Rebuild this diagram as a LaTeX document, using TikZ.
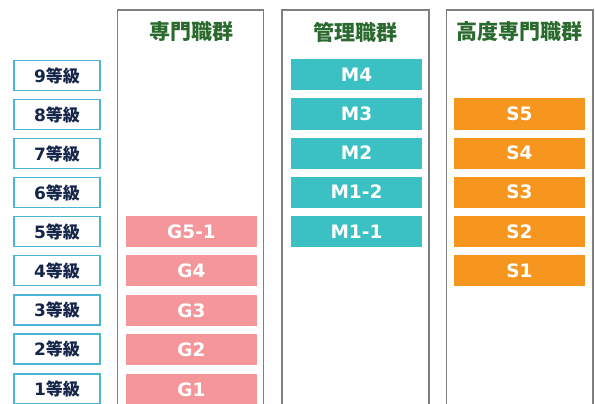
\documentclass[tikz,border=0pt]{standalone}
\usepackage{fontspec}
\setmainfont{DejaVu Sans}
\newfontfamily\cjk{Noto Sans CJK JP}[BoldFont={Noto Sans CJK JP Black}]
\newfontfamily\lat{DejaVu Sans}
\definecolor{teal1}{HTML}{3BC0C3}
\definecolor{orange1}{HTML}{F7961F}
\definecolor{pink1}{HTML}{F4969A}
\definecolor{gradeborder}{HTML}{4BB5D3}
\definecolor{navy1}{HTML}{16254A}
\definecolor{green1}{HTML}{2B6A2F}
\definecolor{colborder}{HTML}{7F7F7F}
\tikzset{
  grade/.style={draw=gradeborder, line width=1.3pt, fill=white, minimum width=86pt, minimum height=30pt, inner sep=0pt, text=navy1, font=\fontsize{17}{17}\selectfont\bfseries},
  bar/.style={minimum width=131pt, minimum height=31pt, inner sep=0pt, text=white, font=\lat\fontsize{18.5}{18.5}\selectfont\bfseries},
  mbar/.style={bar, fill=teal1},
  sbar/.style={bar, fill=orange1},
  gbar/.style={bar, fill=pink1},
  coltitle/.style={text=green1, font=\cjk\fontsize{21}{21}\selectfont\bfseries, inner sep=0pt},
  colframe/.style={draw=colborder, line width=1.4pt}
}
\begin{document}
\begin{tikzpicture}[x=1pt,y=-1pt]
\useasboundingbox (0,0) rectangle (595,404);
% column frames
\draw[colframe] (117.5,420) -- (117.5,10) -- (263.5,10) -- (263.5,420);
\draw[colframe] (282,420) -- (282,10) -- (429,10) -- (429,420);
\draw[colframe] (446.5,420) -- (446.5,10) -- (593,10) -- (593,420);
\node[coltitle] (t1) at (191,32) {専門職群};
\node[coltitle] (t2) at (355.5,32) {管理職群};
\node[coltitle] (t3) at (519.5,32) {高度専門職群};
% grade boxes
\foreach \g/\y in {9/75.5,8/114.5,7/153.5,6/192.5,5/231.5,4/270.5,3/310,2/349,1/389}{
  \node[grade] (g\g) at (57,\y) {\lat\g\cjk 等級};
}
% management
\node[mbar] (m4) at (356.5,75) {M4};
\node[mbar] (m3) at (356.5,114) {M3};
\node[mbar] (m2) at (356.5,153) {M2};
\node[mbar] (m12) at (356.5,192) {M1-2};
\node[mbar] (m11) at (356.5,231.5) {M1-1};
% specialist high
\node[sbar] (s5) at (519.5,114) {S5};
\node[sbar] (s4) at (519.5,153) {S4};
\node[sbar] (s3) at (519.5,192) {S3};
\node[sbar] (s2) at (519.5,231.5) {S2};
\node[sbar] (s1) at (519.5,270.5) {S1};
% specialist
\node[gbar] (g51b) at (191.5,231.5) {G5-1};
\node[gbar] (g4b) at (191.5,270.5) {G4};
\node[gbar] (g3b) at (191.5,310.5) {G3};
\node[gbar] (g2b) at (191.5,349.5) {G2};
\node[gbar] (g1b) at (191.5,389.5) {G1};
\end{tikzpicture}
\end{document}
